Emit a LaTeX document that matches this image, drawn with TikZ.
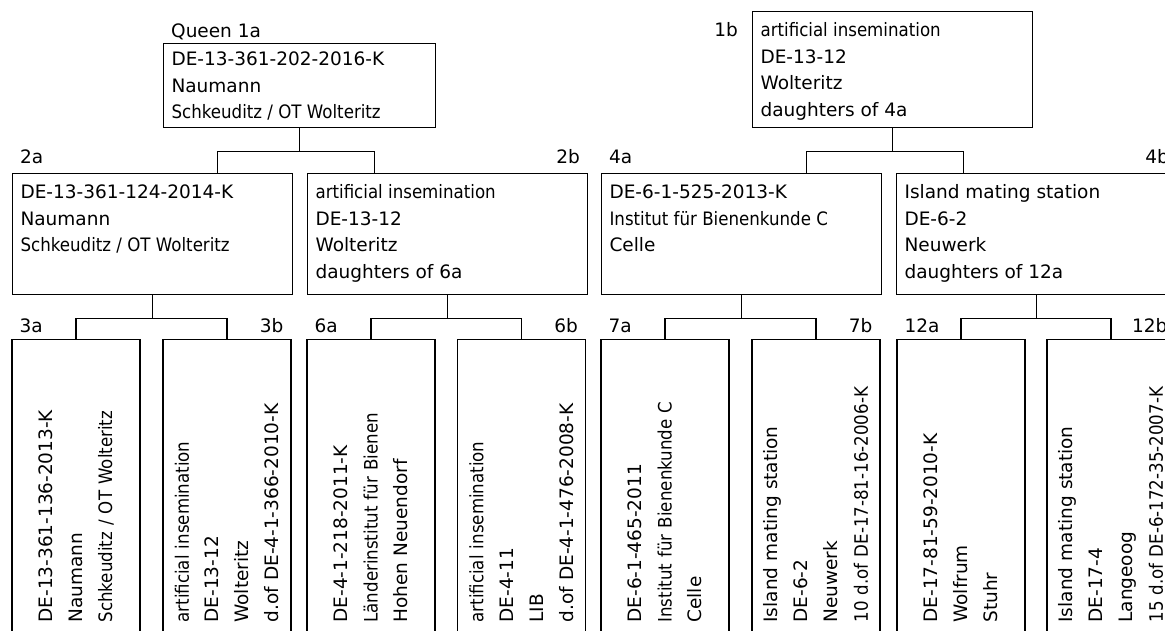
\documentclass[tikz,border=0pt]{standalone}
\usepackage{fontspec}
\setmainfont{DejaVu Sans}
\newfontfamily\cond[FakeStretch=0.9]{DejaVu Sans}
\usetikzlibrary{calc}

\begin{document}
\begin{tikzpicture}[x=1pt, y=-1pt,
    font=\fontsize{18.5}{26.5}\selectfont,
    pedbox/.style 2 args={draw, line width=1.1pt, anchor=north west,
        inner xsep=8pt, inner ysep=6.5pt,
        execute at begin node={\begin{minipage}[c][#2][t]{#1}\fontsize{18.5}{26.5}\selectfont\strut},
        execute at end node={\end{minipage}}},
    leafbox/.style={draw, line width=1.1pt, rotate=90, anchor=east,
        minimum width=311pt, minimum height=128pt, inner xsep=28pt,
        text width=255pt, align=left, font=\fontsize{18.5}{30}\selectfont},
    tag/.style={inner sep=0pt},
    wire/.style={line width=1.1pt}]

    % Page frame
    \useasboundingbox (0,0) rectangle (1165,630);
    \clip (0,0) rectangle (1165,630);

    % Queens and drone sources, top row
    \node[pedbox={256pt}{77pt}, inner ysep=3.5pt] (n1a) at (163,43)
        {DE-13-361-202-2016-K\\ Naumann\\ {\cond Schkeuditz / OT Wolteritz}};
    \node[pedbox={264pt}{103pt}] (n1b) at (752,11)
        {{\cond artificial insemination}\\ DE-13-12\\ Wolteritz\\ daughters of 4a};

    % Second row
    \node[pedbox={264pt}{108pt}] (n2a) at (12,173)
        {DE-13-361-124-2014-K\\ Naumann\\ {\cond Schkeuditz / OT Wolteritz}};
    \node[pedbox={264pt}{108pt}] (n2b) at (307,173)
        {{\cond artificial insemination}\\ DE-13-12\\ Wolteritz\\ daughters of 6a};
    \node[pedbox={264pt}{108pt}] (n4a) at (601,173)
        {DE-6-1-525-2013-K\\ {\cond Institut für Bienenkunde C}\\ Celle};
    \node[pedbox={264pt}{108pt}] (n4b) at (896,173)
        {Island mating station\\ DE-6-2\\ Neuwerk\\ daughters of 12a};

    % Third row, rotated text
    \node[leafbox] (n3a) at (76,339)
        {DE-13-361-136-2013-K\\ Naumann\\ {\cond Schkeuditz / OT Wolteritz}};
    \node[leafbox] (n3b) at (227,339)
        {{\cond artificial insemination}\\ DE-13-12\\ Wolteritz\\ d.of DE-4-1-366-2010-K};
    \node[leafbox] (n6a) at (371,339)
        {DE-4-1-218-2011-K\\ {\cond Länderinstitut für Bienen}\\ Hohen Neuendorf};
    \node[leafbox] (n6b) at (521.5,339)
        {{\cond artificial insemination}\\ DE-4-11\\ LIB\\ d.of DE-4-1-476-2008-K};
    \node[leafbox] (n7a) at (665,339)
        {DE-6-1-465-2011\\ {\cond Institut für Bienenkunde C}\\ Celle};
    \node[leafbox] (n7b) at (816,339)
        {Island mating station\\ DE-6-2\\ Neuwerk\\ {\cond 10 d.of DE-17-81-16-2006-K}};
    \node[leafbox] (n12a) at (961,339)
        {DE-17-81-59-2010-K\\ Wolfrum\\ Stuhr};
    \node[leafbox] (n12b) at (1111,339)
        {Island mating station\\ DE-17-4\\ Langeoog\\ {\cond 15 d.of DE-6-172-35-2007-K}};

    % Tags
    \node[tag, anchor=base west] (t1a) at ([shift={(8,-6)}]n1a.north west) {Queen 1a};
    \node[tag, anchor=base east] (t1b) at ([shift={(-14,25)}]n1b.north west) {1b};
    \node[tag, anchor=base west] (t2a) at ([shift={(8,-10)}]n2a.north west) {2a};
    \node[tag, anchor=base east] (t2b) at ([shift={(-8,-10)}]n2b.north east) {2b};
    \node[tag, anchor=base west] (t4a) at ([shift={(8,-10)}]n4a.north west) {4a};
    \node[tag, anchor=base east] (t4b) at ([shift={(-8,-10)}]n4b.north east) {4b};
    \node[tag, anchor=base west] (t3a) at ([shift={(8,-7)}]n3a.north east) {3a};
    \node[tag, anchor=base east] (t3b) at ([shift={(-8,-7)}]n3b.south east) {3b};
    \node[tag, anchor=base west] (t6a) at ([shift={(8,-7)}]n6a.north east) {6a};
    \node[tag, anchor=base east] (t6b) at ([shift={(-8,-7)}]n6b.south east) {6b};
    \node[tag, anchor=base west] (t7a) at ([shift={(8,-7)}]n7a.north east) {7a};
    \node[tag, anchor=base east] (t7b) at ([shift={(-8,-7)}]n7b.south east) {7b};
    \node[tag, anchor=base west] (t12a) at ([shift={(8,-7)}]n12a.north east) {12a};
    \node[tag, anchor=base east] (t12b) at ([shift={(-8,-7)}]n12b.south east) {12b};

    % Connectors, first to second row
    \draw[wire] (n1a.south) -- ++(0,23) -| ($(n2a.north west)!.73!(n2a.north east)$);
    \draw[wire] (n1a.south) ++(0,23) -| ($(n2b.north west)!.24!(n2b.north east)$);
    \draw[wire] (n1b.south) -- ++(0,23) -| ($(n4a.north west)!.73!(n4a.north east)$);
    \draw[wire] (n1b.south) ++(0,23) -| ($(n4b.north west)!.24!(n4b.north east)$);

    % Connectors, second to third row
    \draw[wire] (n2a.south) -- ++(0,23) -| (n3a.east);
    \draw[wire] (n2a.south) ++(0,23) -| (n3b.east);
    \draw[wire] (n2b.south) -- ++(0,23) -| (n6a.east);
    \draw[wire] (n2b.south) ++(0,23) -| (n6b.east);
    \draw[wire] (n4a.south) -- ++(0,23) -| (n7a.east);
    \draw[wire] (n4a.south) ++(0,23) -| (n7b.east);
    \draw[wire] (n4b.south) -- ++(0,23) -| (n12a.east);
    \draw[wire] (n4b.south) ++(0,23) -| (n12b.east);
\end{tikzpicture}
\end{document}
